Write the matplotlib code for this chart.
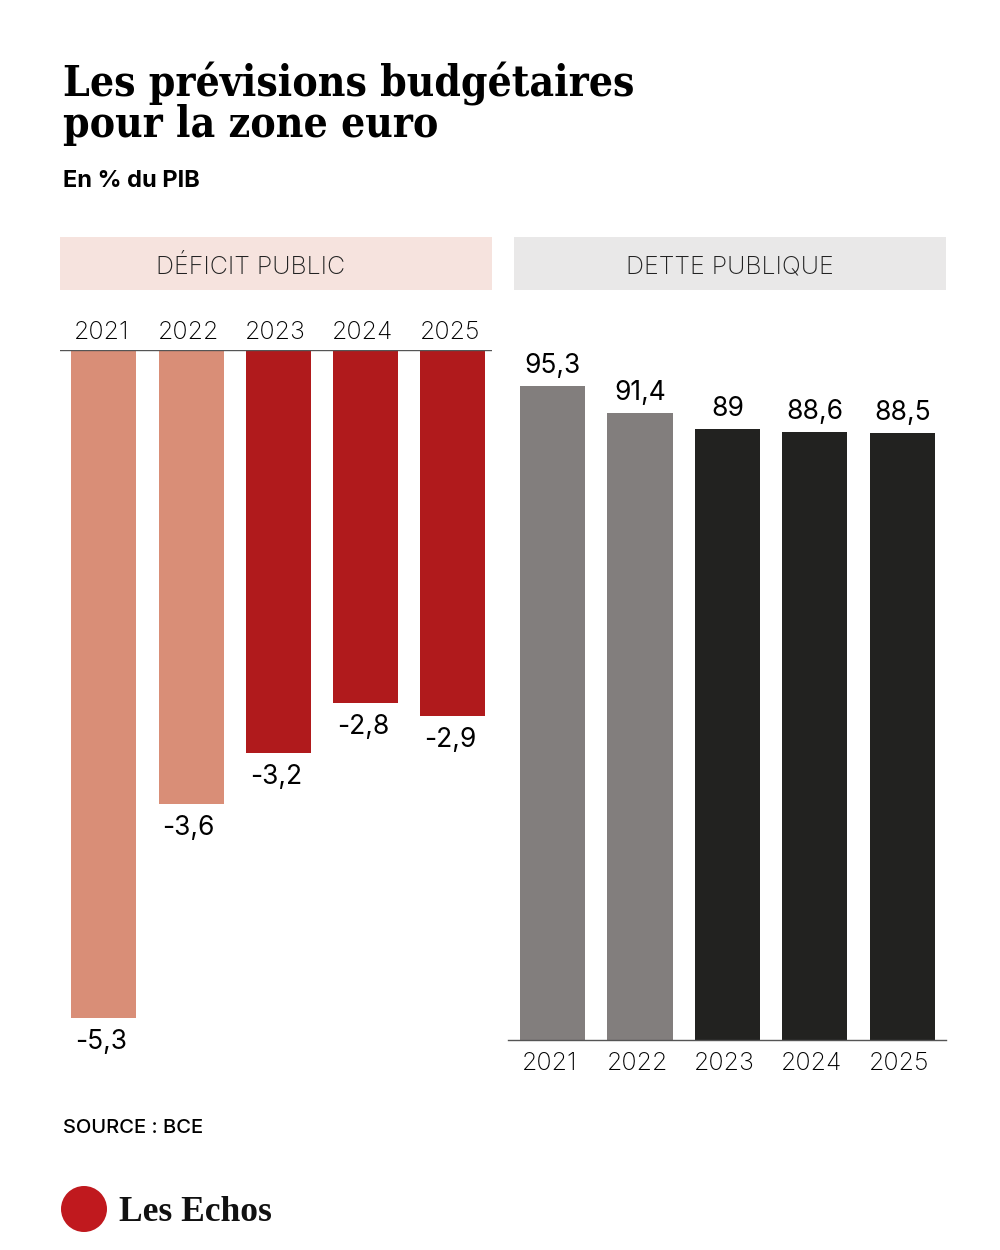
import matplotlib
matplotlib.use('Agg')
import matplotlib.pyplot as plt
from matplotlib.patches import Rectangle, Ellipse

# donnees
annees = ['2021', '2022', '2023', '2024', '2025']
deficit = [-5.3, -3.6, -3.2, -2.8, -2.9]
dette = [95.3, 91.4, 89, 88.6, 88.5]
couleurs_deficit = ['#d98e77', '#d98e77', '#b01a1c', '#b01a1c', '#b01a1c']
couleurs_dette = ['#827e7d', '#827e7d', '#222220', '#222220', '#222220']

W, H = 1000, 1250
fig = plt.figure(figsize=(10, 12.5), dpi=100)
fig.patch.set_facecolor('white')

def px(x, y):
    return x / W, 1 - y / H

def fmt(v):
    return ('%g' % v).replace('.', ',')

sans = ['Inter', 'DejaVu Sans']

# titre
for ligne, yb in [('Les prévisions budgétaires', 97), ('pour la zone euro', 137)]:
    fig.text(*px(63, yb), ligne, family='DejaVu Serif', fontstretch='condensed',
             weight='bold', fontsize=30.5, va='baseline', ha='left')
fig.text(*px(63, 187), 'En % du PIB', family=sans, weight='bold', fontsize=17, va='baseline')

# bandeaux
fig.patches.append(Rectangle(px(60, 290), 432 / W, 53 / H, transform=fig.transFigure,
                             facecolor='#f6e3de', edgecolor='none'))
fig.patches.append(Rectangle(px(514, 290), 432 / W, 53 / H, transform=fig.transFigure,
                             facecolor='#e9e8e8', edgecolor='none'))
fig.text(*px(251, 267), 'DÉFICIT PUBLIC', family=sans, weight='light', fontsize=18,
         ha='center', va='center', color='#222222')
fig.text(*px(730, 267), 'DETTE PUBLIQUE', family=sans, weight='light', fontsize=18,
         ha='center', va='center', color='#222222')

# deficit
ax1 = fig.add_axes([60 / W, 1 - 1040 / H, 432 / W, 690 / H])
x = range(len(annees))
ax1.bar(x, deficit, width=0.745, color=couleurs_deficit)
ax1.set_xlim(-0.504, 4.447)
ax1.set_ylim(-690 / 126.04, 0)
for i, v in enumerate(deficit):
    ax1.annotate(fmt(v), (i, v), xytext=(-2, -8), textcoords='offset points',
                 ha='center', va='top', fontsize=19, family=sans)
for i, a in enumerate(annees):
    ax1.annotate(a, (i, 0), xytext=(-2, 4), textcoords='offset points',
                 ha='center', va='bottom', fontsize=18, family=sans, weight='light')
ax1.axhline(0, color='#555555', lw=1)
ax1.axis('off')

# dette
ax2 = fig.add_axes([514 / W, 1 - 1040 / H, 432 / W, 690 / H])
ax2.bar(x, dette, width=0.745, color=couleurs_dette)
ax2.set_xlim(-0.44, 4.50)
ax2.set_ylim(0, 690 / 6.862)
for i, v in enumerate(dette):
    ax2.annotate(fmt(v), (i, v), xytext=(0, 5), textcoords='offset points',
                 ha='center', va='bottom', fontsize=19, family=sans)
for i, a in enumerate(annees):
    ax2.annotate(a, (i, 0), xytext=(-2, -9), textcoords='offset points',
                 ha='center', va='top', fontsize=18, family=sans, weight='light')
ax2.plot([-0.51, 4.50], [0, 0], color='#555555', lw=1, clip_on=False)
ax2.axis('off')

# source et logo
fig.text(*px(63, 1133), 'SOURCE : BCE', family=sans, weight='medium', fontsize=14.5, va='baseline')
fig.patches.append(Ellipse(px(84, 1209), 46 / W, 46 / H, transform=fig.transFigure,
                           facecolor='#c0191e', edgecolor='none'))
fig.text(*px(119, 1221), 'Les Echos', family='Liberation Serif', weight='bold', fontsize=25.5,
         va='baseline', color='#111111')

fig.savefig('out.png', dpi=100)
